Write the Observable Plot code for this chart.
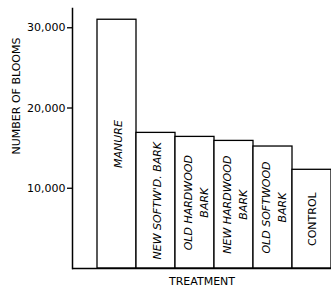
<!DOCTYPE html>
<html>
<head>
<meta charset="utf-8">
<script src="https://cdn.jsdelivr.net/npm/d3@7"></script>
<script src="https://cdn.jsdelivr.net/npm/@observablehq/plot@0.6"></script>
<style>
  html, body { margin: 0; padding: 0; background: #fff; }
  #chart { width: 331px; height: 290px; overflow: hidden; }
</style>
</head>
<body>
<div id="chart"></div>
<script>
const treatments = ["MANURE", "NEW SOFTW'D. BARK", "OLD HARDWOOD\nBARK", "NEW HARDWOOD\nBARK", "OLD SOFTWOOD\nBARK", "CONTROL"];
const blooms = [31000, 16900, 16400, 15900, 15200, 12300];
const yTicks = [10000, 20000, 30000];
const yLabel = "NUMBER OF BLOOMS";
const xLabel = "TREATMENT";

const data = treatments.map((t, i) => ({treatment: t, blooms: blooms[i]}));
const italicData = data.filter(d => d.treatment !== "CONTROL");
const uprightData = data.filter(d => d.treatment === "CONTROL");
const fmt = d3.format(",");

const chart = Plot.plot({
  width: 331,
  height: 290,
  marginLeft: 72,
  marginRight: 0,
  marginTop: 8,
  marginBottom: 22,
  style: {fontFamily: "DejaVu Sans", fontSize: "11px", color: "#000", background: "#fff"},
  x: {type: "band", domain: treatments, paddingInner: 0, paddingOuter: 0.25, align: 1, axis: null},
  y: {domain: [0, 32400], axis: null},
  marks: [
    Plot.barY(data, {x: "treatment", y: "blooms", fill: "#fff", stroke: "#000", strokeWidth: 1.3}),
    Plot.text(italicData, {x: "treatment", y: d => d.blooms / 2, text: "treatment", rotate: -90, fontStyle: "italic", fontSize: 11, lineHeight: 1.4, fill: "#000"}),
    Plot.text(uprightData, {x: "treatment", y: d => d.blooms / 2, text: "treatment", rotate: -90, fontSize: 11, fill: "#000"}),
    Plot.axisY({ticks: yTicks, tickFormat: fmt, tickSize: 5, tickPadding: 2, label: null, fontSize: 11, stroke: "#000", strokeWidth: 1.3}),
    Plot.frame({anchor: "left", stroke: "#000", strokeWidth: 1.5}),
    Plot.ruleY([0], {stroke: "#000", strokeWidth: 1.5}),
    Plot.text([yLabel], {frameAnchor: "left", rotate: -90, dx: -56, dy: 16, fontSize: 11, fill: "#000"}),
    Plot.text([xLabel], {frameAnchor: "bottom", dy: 16, fontSize: 11, fill: "#000"})
  ]
});
document.getElementById("chart").appendChild(chart);
</script>
</body>
</html>
